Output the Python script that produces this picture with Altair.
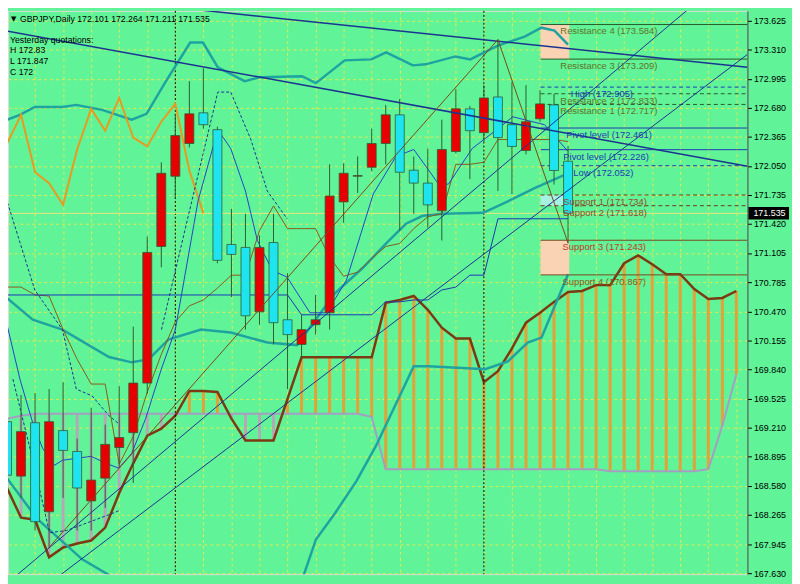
import altair as alt
import pandas as pd

# ---------------- candles (GBPJPY daily) ----------------
candle_open = [169.274, 168.683, 169.263, 168.296, 169.177, 168.951, 168.414, 168.661, 168.994, 169.155,
               169.693, 171.175, 171.938, 172.293, 172.626, 172.443, 171.197, 171.165, 170.466, 171.218,
               170.380, 170.112, 170.327, 170.456, 171.659, 171.938, 172.035, 172.293, 172.604, 172.003,
               171.863, 171.562, 172.207, 172.669, 172.411, 172.798, 172.497, 172.218, 172.561, 172.712,
               172.101]
candle_high = [169.467, 169.564, 169.585, 169.628, 169.703, 169.091, 169.424, 169.241, 169.660, 170.305,
               171.283, 172.089, 172.615, 172.970, 173.109, 172.475, 171.584, 171.530, 171.294, 171.530,
               170.885, 170.434, 170.649, 172.067, 172.078, 172.153, 172.454, 172.712, 172.776, 172.153,
               172.239, 172.551, 172.884, 172.701, 172.927, 173.421, 172.959, 172.927, 172.873, 172.830,
               172.264]
candle_low = [168.554, 168.446, 168.092, 167.909, 168.446, 168.092, 168.092, 168.339, 168.769, 168.608,
              169.575, 170.950, 171.702, 172.250, 172.454, 170.993, 170.627, 170.273, 170.327, 170.112,
              169.628, 169.951, 170.219, 170.273, 171.433, 171.756, 171.992, 172.067, 171.347, 171.530,
              171.380, 171.240, 172.185, 171.906, 172.314, 171.777, 171.745, 172.175, 172.529, 171.847,
              171.211]
candle_close = [168.693, 169.166, 168.189, 169.274, 168.962, 168.554, 168.640, 169.027, 169.102, 169.693,
                171.111, 171.970, 172.379, 172.615, 172.497, 171.025, 171.089, 170.423, 171.165, 170.348,
                170.219, 170.273, 170.380, 171.723, 171.970, 171.945, 172.293, 172.604, 171.981, 171.863,
                171.627, 172.228, 172.669, 172.432, 172.787, 172.357, 172.261, 172.529, 172.723, 172.000,
                171.535]

# ---------------- ichimoku ----------------
span_a = [168.554, 168.232, 168.210, 167.802, 167.909, 167.952, 167.984, 168.124, 168.500, 168.822,
          169.123, 169.198, 169.338, 169.607, 169.607, 169.596, 169.306, 169.070, 169.070, 169.070,
          169.521, 169.972, 169.972, 169.972, 169.972, 169.972, 169.972, 170.563, 170.595, 170.638,
          170.488, 170.294, 170.176, 170.176, 169.703, 169.822, 170.069, 170.348, 170.456, 170.574,
          170.681, 170.692, 170.756, 170.756, 170.993, 171.079, 170.982, 170.875, 170.875, 170.713,
          170.606, 170.617, 170.692]
span_b = [169.306, 169.338, 169.360, 169.360, 169.360, 169.360, 169.360, 169.360, 169.360, 169.360,
          169.360, 169.360, 169.360, 169.360, 169.360, 169.360, 169.360, 169.360, 169.360, 169.360,
          169.360, 169.360, 169.360, 169.360, 169.360, 169.360, 169.327, 168.758, 168.758, 168.758,
          168.758, 168.758, 168.758, 168.758, 168.758, 168.758, 168.758, 168.758, 168.758, 168.758,
          168.758, 168.758, 168.758, 168.736, 168.736, 168.736, 168.736, 168.736, 168.736, 168.736,
          168.758, 169.231, 169.789]
tenkan = [170.735, 170.735, 170.649, 170.638, 170.273, 169.951, 169.682, 169.682, 168.812, 169.113,
          169.596, 170.004, 170.359, 170.531, 170.595, 170.724, 170.864, 170.864, 171.347, 171.616,
          171.369, 171.369, 171.369, 171.057, 170.853, 170.896, 171.046, 171.175, 171.208, 171.369,
          171.498, 171.530, 172.067, 172.067, 172.089, 172.336, 172.336, 172.336, 172.336, 172.336,
          172.314]
kijun = [170.649, 170.649, 170.649, 170.649, 170.649, 170.649, 170.649, 170.649, 170.649, 170.649,
         170.649, 170.649, 170.649, 170.649, 170.649, 170.649, 170.649, 170.649, 170.649, 170.649,
         170.649, 170.434, 170.434, 170.434, 170.434, 170.434, 170.434, 170.574, 170.574, 170.595,
         170.595, 170.703, 170.735, 170.864, 170.864, 171.476, 171.476, 171.476, 171.476, 171.476,
         171.476]
chikou_shift = 26

# ---------------- bollinger bands & fast MA ----------------
bb_up_idx = [0.0, 0.92, 1.98, 3.95, 4.94, 6.77, 8.89, 9.95, 11.29, 13.06, 13.97, 15.03, 16.94, 18.07,
             21.03, 22.02, 24.07, 25.97, 27.03, 28.93, 29.85, 31.97, 33.03, 35.0, 36.91, 38.1, 39.03, 40.0]
bb_up = [172.551, 172.604, 172.690, 172.690, 172.712, 172.658, 172.551, 172.615, 172.959, 173.389,
         173.389, 173.120, 172.970, 173.013, 173.023, 172.948, 173.195, 173.206, 173.281, 173.141,
         173.152, 173.238, 173.206, 173.356, 173.453, 173.550, 173.518, 173.367]
bb_mid_idx = [0.0, 1.83, 3.95, 7.27, 8.89, 10.09, 11.5, 13.83, 15.95, 18.56, 20.68, 23.36, 25.41, 27.03,
              28.44, 29.64, 31.05, 33.95, 36.06, 37.61, 40.0]
bb_mid = [170.617, 170.380, 170.273, 169.976, 169.918, 169.950, 170.165, 170.273, 170.241, 170.133,
          170.105, 170.664, 170.950, 171.208, 171.422, 171.508, 171.530, 171.541, 171.691, 171.809, 171.970]
bb_low_idx = [0.0, 2.12, 5.36, 8.89, 13.83, 18.56, 20.68, 22.02, 23.36, 24.91, 26.32, 29.0, 30.06,
              34.09, 35.71, 37.12, 38.11, 40.0]
bb_low = [168.661, 168.225, 167.780, 167.465, 167.300, 167.354, 167.397, 167.995, 168.275, 168.629,
          169.016, 169.875, 169.875, 169.843, 169.929, 170.133, 170.187, 170.875]
ma_idx = [0.0, 0.92, 1.83, 2.54, 3.39, 3.95, 4.94, 6.0, 7.06, 7.97, 8.89, 9.88, 11.0, 12.0, 13.62, 15.03,
          15.95, 17.0, 17.85, 18.91, 19.97, 21.6, 22.79, 24.2, 26.11, 27.73, 29.0, 30.77, 31.47, 33.17,
          35.0, 36.06, 38.32, 40.0]
ma_val = [170.327, 169.736, 169.263, 168.984, 168.801, 168.855, 168.876, 168.898, 168.822, 168.769,
          168.930, 169.306, 169.843, 170.273, 171.670, 172.443, 172.239, 171.777, 171.240, 170.918,
          170.842, 170.456, 170.456, 170.810, 171.745, 172.153, 172.228, 171.852, 171.852, 172.239,
          172.454, 172.583, 172.497, 172.207]

# dashed envelope segments (segment id, bar position, price)
env_seg = [1, 1, 1, 1, 1, 1, 1,
           2, 2, 2, 2, 2, 2, 2, 2,
           3, 3, 3, 3, 3, 3]
env_idx = [-0.07, 1.98, 3.95, 4.94, 6.07, 7.27, 7.97,
           11.01, 12.91, 13.97, 15.03, 15.95, 17.36, 18.56, 19.97,
           0.42, 1.76, 3.03, 4.23, 7.27, 7.97]
env_val = [171.702, 170.703, 170.273, 169.628, 169.553, 169.338, 169.252,
           170.273, 171.498, 172.175, 172.851, 172.851, 172.346, 171.777, 171.476,
           169.736, 168.908, 168.070, 168.092, 168.264, 168.307]

# ---------------- trend lines & zigzag ----------------
tl_x1 = [10.09, -0.14, 0.78, 3.88]
tl_y1 = [173.800, 173.518, 167.619, 167.619]
tl_x2 = [52.79, 52.79, 48.69, 52.79]
tl_y2 = [173.120, 172.046, 173.765, 173.260]
tl_w = [1.5, 1.5, 1.0, 1.0]
zz_idx = [3, 35, 40]
zz_val = [167.909, 173.421, 171.211]
separators = [12, 34]

# ---------------- pivot levels ----------------
lvl_name = ["Resistance 4", "Resistance 3", "High", "Resistance 2", "Resistance 1", "Pivot level",
            "Pivot level", "Low", "Support 1", "Support 2", "Support 3", "Support 4"]
lvl_value = [173.584, 173.209, 172.905, 172.833, 172.717, 172.461, 172.226, 172.052, 171.734, 171.618,
             171.243, 170.867]
lvl_dashed = [False, False, True, True, True, False, False, True, True, True, False, False]
lvl_line_color = ["#285A28", "#285A28", "#1E3CB4", "#285A28", "#285A28", "#1E3CB4", "#1E3CB4", "#1E3CB4",
                  "#6E3A1E", "#6E3A1E", "#7A4A20", "#7A4A20"]
lvl_text_color = ["#5E7426", "#5E7426", "#1E3CB4", "#5E7426", "#5E7426", "#1E3CB4", "#1E3CB4", "#1E3CB4",
                  "#9C4A2A", "#9C4A2A", "#C23A2A", "#8C5A1E"]
lvl_label_x = [39.45, 39.45, 40.2, 39.45, 39.45, 39.87, 39.66, 40.37, 39.66, 39.66, 39.6, 39.6]
lvl_start = 38.04
box_lo = [173.209, 171.618, 170.867]
box_hi = [173.584, 171.734, 171.243]
box_color = ["#FAD3B4", "#A6F2E2", "#FAD3B4"]

header = "GBPJPY,Daily  172.101 172.264 171.211 171.535"
info_lines = ["Yesterday quotations:", "H 172.83", "L 171.847", "C 172"]
bid = 171.535

# ---------------- scales & axes ----------------
X0, X1 = 0.07, 52.79
xs = alt.Scale(domain=[X0, X1], nice=False, zero=False)
ys = alt.Scale(domain=[167.619, 173.732], nice=False, zero=False)
y_ticks = [173.625, 173.310, 172.995, 172.680, 172.365, 172.050, 171.735, 171.420, 171.105, 170.785,
           170.470, 170.155, 169.840, 169.525, 169.210, 168.895, 168.580, 168.265, 167.945, 167.630]
GRID = "#E2EA4E"
xaxis = alt.Axis(values=list(range(2, 53, 2)), labels=False, ticks=False, domain=False, title=None,
                 grid=True, gridColor=GRID, gridDash=[3, 3], gridWidth=1)
yaxis = alt.Axis(orient="right", values=y_ticks, format=".3f", title=None, grid=True, gridColor=GRID,
                 gridDash=[3, 3], labelFont="Liberation Sans", labelFontSize=9, labelColor="#000000",
                 tickColor="#000000", tickSize=4, domainColor="#1E4632", labelPadding=2,
                 labelOverlap=False)

def X(f):
    return alt.X(f, type="quantitative", scale=xs, axis=xaxis)

def Y(f):
    return alt.Y(f, type="quantitative", scale=ys, axis=yaxis)

# ---------------- tables ----------------
n = len(candle_open)
candles = pd.DataFrame({"idx": list(range(n)), "open": candle_open, "high": candle_high,
                        "low": candle_low, "close": candle_close})
candles["fill"] = ["#E60000" if c >= o else "#1EE4F0" for o, c in zip(candle_open, candle_close)]

cloud = pd.DataFrame({"idx": list(range(len(span_a))), "a": span_a, "b": span_b})
cloud["col"] = ["#E3A137" if a > b else "#B7A6B7" for a, b in zip(span_a, span_b)]

chik = pd.DataFrame({"idx": list(range(n - chikou_shift)), "v": candle_close[chikou_shift:]})
tk = pd.DataFrame({"idx": list(range(n)), "tenkan": tenkan, "kijun": kijun})
env = pd.DataFrame({"seg": env_seg, "i": env_idx, "v": env_val})

levels = pd.DataFrame({"v": lvl_value, "dashed": lvl_dashed, "lc": lvl_line_color, "tc": lvl_text_color,
                       "lx": lvl_label_x})
levels["label"] = [f"{nm} ({v:.3f})" for nm, v in zip(lvl_name, lvl_value)]
levels["x0"] = lvl_start
levels["x1"] = X1
boxes = pd.DataFrame({"lo": box_lo, "hi": box_hi, "c": box_color, "x0": lvl_start, "x1": 40.08})
tls = pd.DataFrame({"x1": tl_x1, "y1": tl_y1, "x2": tl_x2, "y2": tl_y2, "w": tl_w})

layers = []

# cloud bars
layers.append(alt.Chart(cloud).mark_rule(strokeWidth=3, clip=True).encode(
    x=X("idx"), y=Y("a"), y2="b", color=alt.Color("col:N", scale=None)))
layers.append(alt.Chart(cloud).mark_line(color="#A59DC2", strokeWidth=2, clip=True).encode(
    x=X("idx"), y=Y("b")))
layers.append(alt.Chart(cloud).mark_line(color="#7B3A12", strokeWidth=2.5, clip=True).encode(
    x=X("idx"), y=Y("a")))

# separators and bid line
layers.append(alt.Chart(pd.DataFrame({"s": separators})).mark_rule(
    color="#000000", strokeDash=[2, 2], strokeWidth=1).encode(x=X("s")))
layers.append(alt.Chart(pd.DataFrame({"p": [bid]})).mark_rule(
    color="#EDE67A", strokeWidth=1).encode(y=Y("p")))

# pivot boxes
layers.append(alt.Chart(boxes).mark_rect(clip=True).encode(
    x=X("x0"), x2="x1", y=Y("lo"), y2="hi", color=alt.Color("c:N", scale=None)))

# bollinger bands
for bi, bv in [(bb_up_idx, bb_up), (bb_mid_idx, bb_mid), (bb_low_idx, bb_low)]:
    layers.append(alt.Chart(pd.DataFrame({"i": bi, "v": bv})).mark_line(
        color="#1FA3A0", strokeWidth=2.5, clip=True).encode(x=X("i"), y=Y("v")))

# chikou, tenkan, kijun, MA, dashed envelope
layers.append(alt.Chart(chik).mark_line(color="#E89A20", strokeWidth=2, clip=True).encode(
    x=X("idx"), y=Y("v")))
layers.append(alt.Chart(tk).mark_line(color="#8A5A1A", strokeWidth=1, clip=True).encode(
    x=X("idx"), y=Y("tenkan")))
layers.append(alt.Chart(tk).mark_line(color="#1C35B8", strokeWidth=1, clip=True).encode(
    x=X("idx"), y=Y("kijun")))
layers.append(alt.Chart(pd.DataFrame({"i": ma_idx, "v": ma_val})).mark_line(
    color="#2244CC", strokeWidth=1, clip=True).encode(x=X("i"), y=Y("v")))
layers.append(alt.Chart(env).mark_line(color="#1B3490", strokeWidth=1, strokeDash=[3, 2], clip=True).encode(
    x=X("i"), y=Y("v"), detail="seg:N"))

# pivot lines
lv_solid = levels[~levels["dashed"]]
lv_dash = levels[levels["dashed"]]
layers.append(alt.Chart(lv_solid).mark_rule(strokeWidth=1, clip=True).encode(
    x=X("x0"), x2="x1", y=Y("v"), color=alt.Color("lc:N", scale=None)))
layers.append(alt.Chart(lv_dash).mark_rule(strokeWidth=1, strokeDash=[4, 3], clip=True).encode(
    x=X("x0"), x2="x1", y=Y("v"), color=alt.Color("lc:N", scale=None)))

# candles
layers.append(alt.Chart(candles).mark_rule(color="#2C5E34", strokeWidth=1, clip=True).encode(
    x=X("idx"), y=Y("low"), y2="high"))
layers.append(alt.Chart(candles).transform_calculate(
    x0="datum.idx - 0.32", x1="datum.idx + 0.32").mark_rect(
    stroke="#2C5E34", strokeWidth=0.8, clip=True).encode(
    x=X("x0"), x2="x1", y=Y("open"), y2="close", fill=alt.Fill("fill:N", scale=None)))

# trend lines and zigzag
layers.append(alt.Chart(tls).mark_rule(color="#1B3490", clip=True).encode(
    x=X("x1"), y=Y("y1"), x2="x2", y2="y2", strokeWidth=alt.StrokeWidth("w:Q", scale=None)))
layers.append(alt.Chart(pd.DataFrame({"i": zz_idx, "v": zz_val})).mark_line(
    color="#7A4A14", strokeWidth=1, clip=True).encode(x=X("i"), y=Y("v")))

# pivot labels
layers.append(alt.Chart(levels).mark_text(align="left", baseline="middle", dy=7, font="Liberation Sans",
                                          fontSize=9.5).encode(
    x=X("lx"), y=Y("v"), text="label:N", color=alt.Color("tc:N", scale=None)))

# current price box on axis
pb = pd.DataFrame({"p": [bid]})
layers.append(alt.Chart(pb).transform_calculate(hi="datum.p + 0.068", lo="datum.p - 0.068").mark_rect(
    color="#000000").encode(x=alt.value(748), x2=alt.value(789), y=Y("hi"), y2="lo"))
layers.append(alt.Chart(pb).mark_text(color="#FFFFFF", align="left", baseline="middle", font="Liberation Sans",
                                      fontSize=9).encode(x=alt.value(753), y=Y("p"), text=alt.Text("p:Q", format=".3f")))

# header texts
layers.append(alt.Chart(pd.DataFrame({"t": ["▼"]})).mark_text(
    align="left", baseline="middle", fontSize=7, color="#000000", font="DejaVu Sans").encode(
    x=alt.value(3), y=alt.value(8), text="t:N"))
layers.append(alt.Chart(pd.DataFrame({"t": [header]})).mark_text(
    align="left", baseline="middle", fontSize=8.8, color="#000000", font="Liberation Sans").encode(
    x=alt.value(12), y=alt.value(8), text="t:N"))
for k, line in enumerate(info_lines):
    layers.append(alt.Chart(pd.DataFrame({"t": [line]})).mark_text(
        align="left", baseline="middle", fontSize=8.8, color="#000000", font="Liberation Sans").encode(
        x=alt.value(2), y=alt.value(29 + 11 * k), text="t:N"))

chart = alt.layer(*layers).properties(
    width=747, height=569, background="#61F398",
    autosize=alt.AutoSizeParams(type="none"),
    padding={"left": 0, "top": 0, "right": 45, "bottom": 7},
).configure_view(stroke="#214D33", strokeWidth=1).configure(font="Liberation Sans")

chart.save("out.html", embed_options={"renderer": "svg", "actions": False})
